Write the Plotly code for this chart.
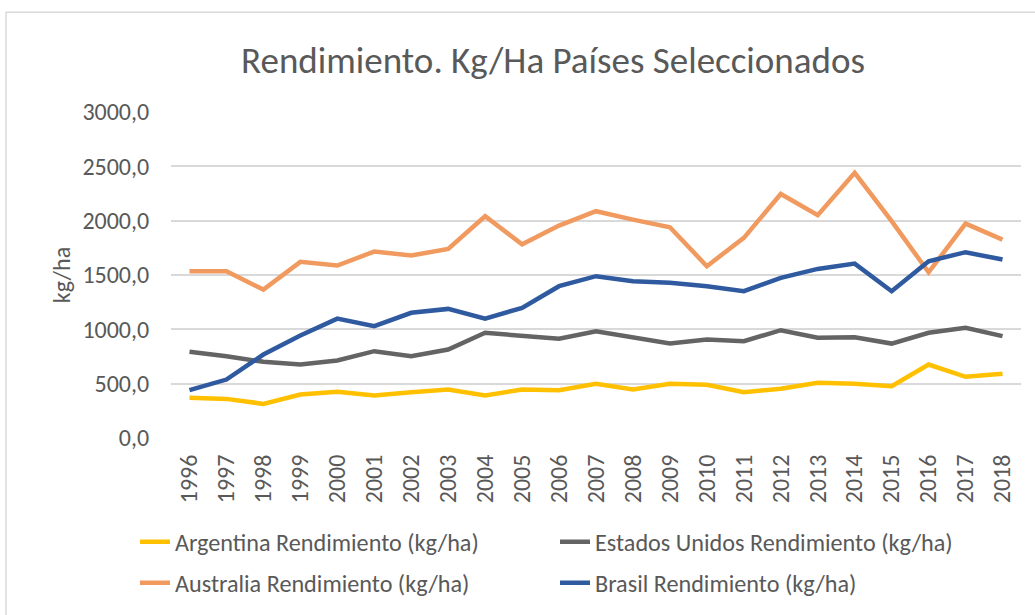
import plotly.graph_objects as go

years = [str(y) for y in range(1996, 2019)]

argentina = [370, 360, 314, 400, 425, 391, 421, 446, 391, 446, 440, 499,
             446, 499, 489, 421, 453, 508, 499, 477, 676, 563, 591]
estados_unidos = [793, 753, 701, 676, 713, 799, 753, 814, 968, 937, 913, 983,
                  922, 869, 906, 891, 992, 922, 928, 869, 968, 1014, 937]
australia = [1535, 1535, 1366, 1621, 1587, 1716, 1679, 1740, 2041, 1783, 1955, 2087,
             2010, 1940, 1581, 1842, 2246, 2050, 2440, 1995, 1525, 1973, 1826]
brasil = [440, 538, 768, 943, 1099, 1029, 1152, 1188, 1099, 1198, 1397, 1489,
          1443, 1428, 1397, 1351, 1474, 1556, 1605, 1351, 1627, 1710, 1642]

series = [
    ("Argentina Rendimiento (kg/ha)", argentina, "#FFC000", "legend"),
    ("Estados Unidos Rendimiento (kg/ha)", estados_unidos, "#646464", "legend"),
    ("Australia Rendimiento (kg/ha)", australia, "#F19A5F", "legend2"),
    ("Brasil Rendimiento (kg/ha)", brasil, "#2F5AA0", "legend2"),
]

FONT = "Calibri, Carlito, 'Open Sans', sans-serif"
TXT = "#595959"

fig = go.Figure()
for name, vals, color, leg in series:
    fig.add_trace(go.Scatter(x=years, y=vals, name=name, mode="lines",
                             line=dict(color=color, width=4.5), legend=leg))

legend_style = dict(orientation="h", xref="container", yref="container",
                    x=135 / 1035, xanchor="left", yanchor="middle",
                    entrywidth=375, entrywidthmode="pixels",
                    font=dict(size=24.2, color=TXT, family=FONT),
                    bgcolor="rgba(0,0,0,0)")

fig.update_layout(
    width=1035, height=615,
    margin=dict(l=171, r=14, t=112, b=177, autoexpand=False),
    paper_bgcolor="white", plot_bgcolor="white",
    separators=",.",
    font=dict(family=FONT, color=TXT),
    title=dict(text="Rendimiento. Kg/Ha Países Seleccionados",
               x=553 / 1035, xanchor="center", y=1 - 60 / 615, yanchor="middle",
               font=dict(size=37, color=TXT, family=FONT)),
    legend=dict(legend_style, y=1 - 542 / 615),
    legend2=dict(legend_style, y=1 - 583 / 615),
    showlegend=True,
)

fig.update_yaxes(range=[0, 3000], dtick=500, tickformat=".1f",
                 showgrid=True, gridcolor="#D9D9D9", gridwidth=1.5,
                 zeroline=False, showline=False,
                 ticks="outside", ticklen=16, tickcolor="rgba(0,0,0,0)",
                 tickfont=dict(size=24, color=TXT, family=FONT),
                 title=dict(text="kg/ha", font=dict(size=24, color=TXT, family=FONT),
                            standoff=4),
                 automargin=False)
fig.update_xaxes(type="category", range=[-0.5, len(years) - 0.5], tickangle=-90,
                 showgrid=False, showline=False,
                 ticks="outside", ticklen=6, tickcolor="rgba(0,0,0,0)",
                 tickfont=dict(size=24, color=TXT, family=FONT),
                 automargin=False)

# chart area border
fig.add_shape(type="rect", xref="paper", yref="paper",
              x0=(6 - 171) / 850, x1=(1045 - 171) / 850,
              y0=(438.5 - 625) / 326.5, y1=(438.5 - 12) / 326.5,
              line=dict(color="#D9D9D9", width=1.5), layer="below")

fig.write_html("out.html", config={"displayModeBar": False},
               post_script="document.body.style.margin='0';"
                           "document.body.style.overflow='hidden';")
